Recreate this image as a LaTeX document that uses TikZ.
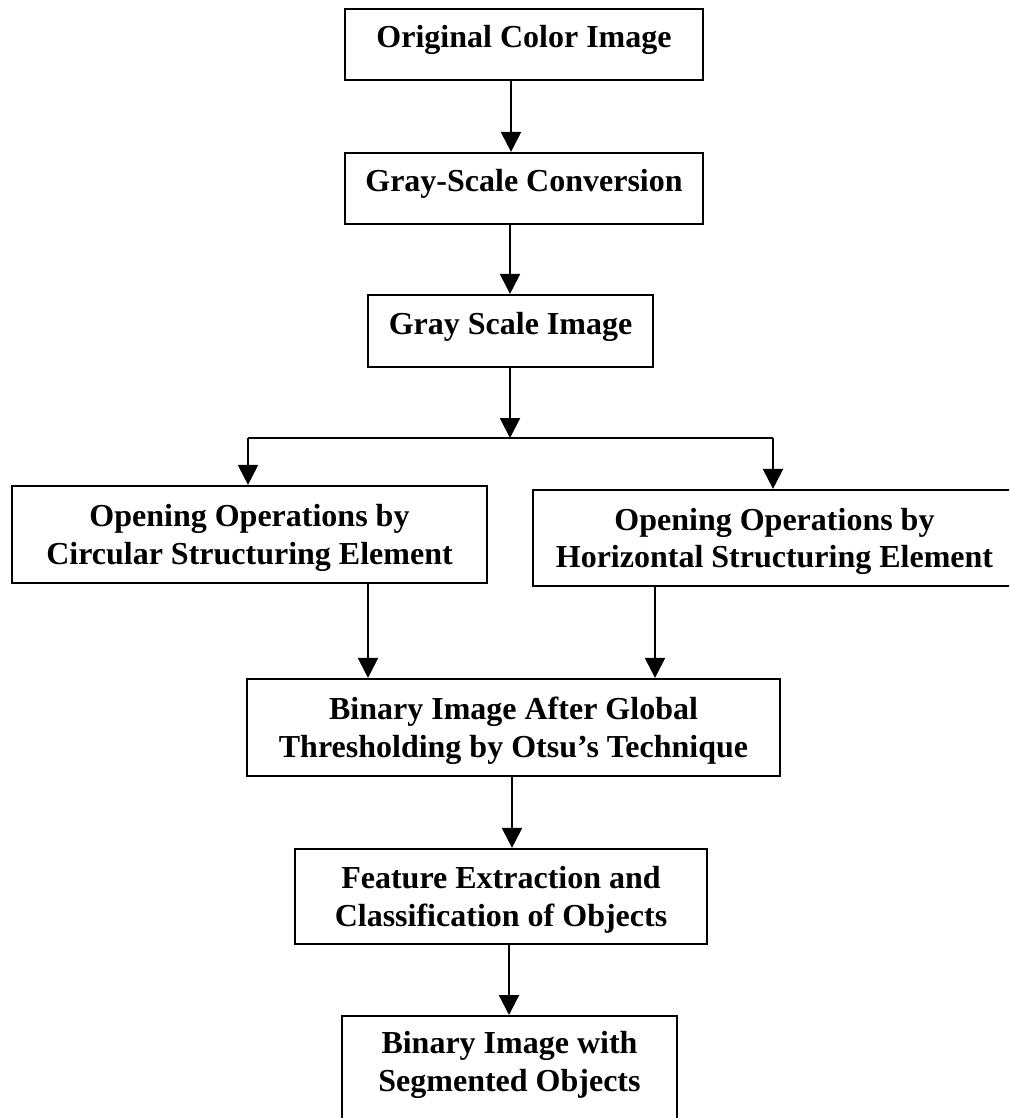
\documentclass[tikz,border=0pt]{standalone}
\usepackage{fontspec}
\setmainfont{Liberation Serif}
\usetikzlibrary{arrows.meta}
\begin{document}
\begin{tikzpicture}[x=0.5pt,y=-0.5pt,
  txt/.style={align=center, inner sep=0pt, font=\bfseries\fontsize{16}{18.6}\selectfont},
  oneline/.style={text height=11pt, text depth=7.5pt},
  twoline/.style={text height=33pt, text depth=3.5pt},
  frame/.style={txt, draw, line width=1.1pt},
  link/.style={line width=1.1pt},
  arr/.style={link, -{Triangle[length=10pt,width=10pt]}}]

% page and clipping window
\useasboundingbox (0,0) rectangle (1009,1118);
\fill[white] (0,0) rectangle (1009,1118);
\clip (0,0) rectangle (1009,1118);

% process boxes
\node[frame, oneline, minimum width=179pt, minimum height=35.5pt] (b1) at (524,44.5) {Original Color Image};
\node[frame, oneline, minimum width=179pt, minimum height=35.5pt] (b2) at (524,188.5) {Gray-Scale Conversion};
\node[frame, oneline, minimum width=142.5pt, minimum height=36pt] (b3) at (510.5,331) {Gray Scale Image};
\node[frame, twoline, minimum width=237.5pt, minimum height=48.5pt] (opl) at (249.5,534.5) {Opening Operations by\\Circular Structuring Element};
\node[frame, twoline, minimum width=241.5pt, minimum height=48pt] (opr) at (774.5,538) {Opening Operations by\\Horizontal Structuring Element};
\node[frame, twoline, minimum width=266.5pt, minimum height=48.5pt] (b5) at (513.5,727.5) {Binary Image After Global\\Thresholding by Otsu's Technique};
\node[frame, twoline, minimum width=206pt, minimum height=47.5pt] (b6) at (501,896.5) {Feature Extraction and\\Classification of Objects};
\node[frame, minimum width=167.5pt, minimum height=56pt, anchor=north] (b7) at (509.5,1015) {};
\node[txt, twoline] (b7t) at (509.5,1061.5) {Binary Image with\\Segmented Objects};

% connector columns
\coordinate (c12) at (511,0);
\coordinate (c23) at (510,0);
\coordinate (j) at (510,438);
\coordinate (jl) at (248,438);
\coordinate (jr) at (773,438);
\coordinate (cl) at (368,0);
\coordinate (cr) at (655,0);
\coordinate (c56) at (512,0);
\coordinate (c67) at (509,0);

% connectors
\draw[arr] (b1.south -| c12) -- (b2.north -| c12);
\draw[arr] (b2.south -| c23) -- (b3.north -| c23);
\draw[arr] (b3.south -| j) -- (j);
\draw[link] (jl) -- (jr);
\draw[arr] (jl) -- (opl.north -| jl);
\draw[arr] (jr) -- (opr.north -| jr);
\draw[arr] (opl.south -| cl) -- (b5.north -| cl);
\draw[arr] (opr.south -| cr) -- (b5.north -| cr);
\draw[arr] (b5.south -| c56) -- (b6.north -| c56);
\draw[arr] (b6.south -| c67) -- (b7.north -| c67);
\end{tikzpicture}
\end{document}
